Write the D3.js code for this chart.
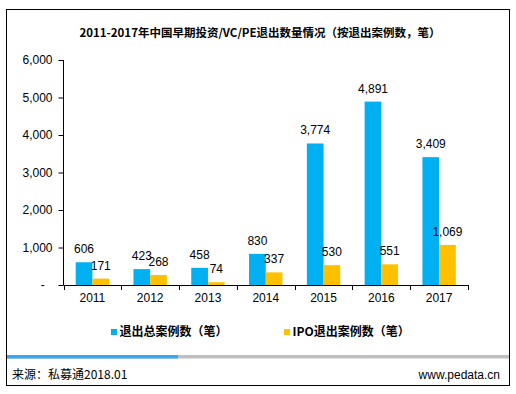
<!DOCTYPE html>
<html><head><meta charset="utf-8">
<script src="https://cdn.jsdelivr.net/npm/d3@7/dist/d3.min.js"></script>
<style>body{margin:0;background:#fff}svg{display:block}</style>
</head><body>
<svg id="c" width="516" height="394"></svg>
<script>
const years = ["2011","2012","2013","2014","2015","2016","2017"];
const seriesNames = ["退出总案例数（笔）","IPO退出案例数（笔）"];
const totalExits = [606,423,458,830,3774,4891,3409];
const ipoExits = [171,268,74,337,530,551,1069];
const yTicks = [0,1000,2000,3000,4000,5000,6000];
const colors = ["#00B0F0","#FFC000"];
const title = "2011-2017年中国早期投资/VC/PE退出数量情况（按退出案例数，笔）";
const source = "来源：私募通2018.01";
const site = "www.pedata.cn";

const svg = d3.select("#c");
const font = "Arial, 'Liberation Sans', sans-serif";
const cjk = "'Noto Sans CJK SC', sans-serif";

svg.append("rect").attr("x",6.5).attr("y",9.5).attr("width",503).attr("height",376)
  .attr("fill","#fff").attr("stroke","#000").attr("stroke-width",1);

svg.append("text").attr("x",260).attr("y",36.5).attr("text-anchor","middle")
  .attr("font-family",cjk).attr("font-weight","bold").attr("font-size",11.5).text(title);

const x0 = d3.scaleBand().domain(years).range([63.5,468]).padding(0);
const x1 = d3.scaleBand().domain([0,1]).range([0,x0.bandwidth()]).paddingInner(0).paddingOuter(0.73);
const y = d3.scaleLinear().domain([0,6000]).range([285,60]);

// y axis
const yAxis = d3.axisLeft(y).tickValues(yTicks).tickSize(5).tickPadding(6)
  .tickFormat(d => d===0 ? "-  " : d3.format(",")(d));
const gy = svg.append("g").attr("transform","translate(63.5,0)").call(yAxis);
gy.select(".domain").attr("stroke","#000").attr("d","M0,60V285");
gy.selectAll(".tick line").attr("stroke","#000");
gy.selectAll(".tick text").attr("font-family",font).attr("font-size",12).attr("fill","#000");
gy.selectAll(".tick text").filter(d=>d===0).attr("xml:space","preserve").attr("dx",-1);

// bars
const data = years.map((yr,i)=>({yr, vals:[totalExits[i], ipoExits[i]]}));
const g = svg.append("g");
data.forEach(d=>{
  d.vals.forEach((v,s)=>{
    const bx = x0(d.yr)+x1(s);
    g.append("rect").attr("x",bx).attr("y",y(v)).attr("width",x1.bandwidth())
      .attr("height",y(0)-y(v)).attr("fill",colors[s]);
  });
});
data.forEach(d=>{
  d.vals.forEach((v,s)=>{
    const bx = x0(d.yr)+x1(s)+x1.bandwidth()/2;
    g.append("text").attr("x",bx).attr("y",y(v)-9).attr("text-anchor","middle")
      .attr("font-family",font).attr("font-size",12).attr("fill","#000").text(d3.format(",")(v));
  });
});

// x axis
const gx = svg.append("g").attr("transform","translate(0,285)");
gx.append("line").attr("x1",63.5).attr("x2",468).attr("y1",0.5).attr("y2",0.5).attr("stroke","#000");
const bounds = years.map(yr=>x0(yr)).concat([x0.range()[1]]);
gx.selectAll("line.t").data(bounds).enter().append("line").attr("class","t")
  .attr("x1",d=>Math.round(d)+0.5).attr("x2",d=>Math.round(d)+0.5).attr("y1",0).attr("y2",5).attr("stroke","#000");
gx.selectAll("text").data(years).enter().append("text")
  .attr("x",d=>x0(d)+x0.bandwidth()/2).attr("y",17).attr("text-anchor","middle")
  .attr("font-family",font).attr("font-size",12).attr("fill","#000").text(d=>d);

// legend
const legX = [111,284];
seriesNames.forEach((n,i)=>{
  svg.append("rect").attr("x",legX[i]).attr("y",329).attr("width",6).attr("height",6).attr("fill",colors[i]);
  svg.append("text").attr("x",legX[i]+8.5).attr("y",336).attr("font-family",cjk).attr("font-weight","bold")
    .attr("font-size",12).attr("fill","#000").text(n);
});

// bottom band
svg.append("rect").attr("x",7).attr("y",355).attr("width",502).attr("height",3.5).attr("fill","#BFBFBF");
svg.append("rect").attr("x",7).attr("y",355).attr("width",171).attr("height",3.5).attr("fill","#3BA6F2");

svg.append("text").attr("x",12).attr("y",378.5).attr("font-family",cjk+", "+font).attr("font-size",12).attr("fill","#000").text(source);
svg.append("text").attr("x",500).attr("y",378.5).attr("text-anchor","end").attr("font-family",font).attr("font-size",12).attr("fill","#000").text(site);
</script>
</body></html>
